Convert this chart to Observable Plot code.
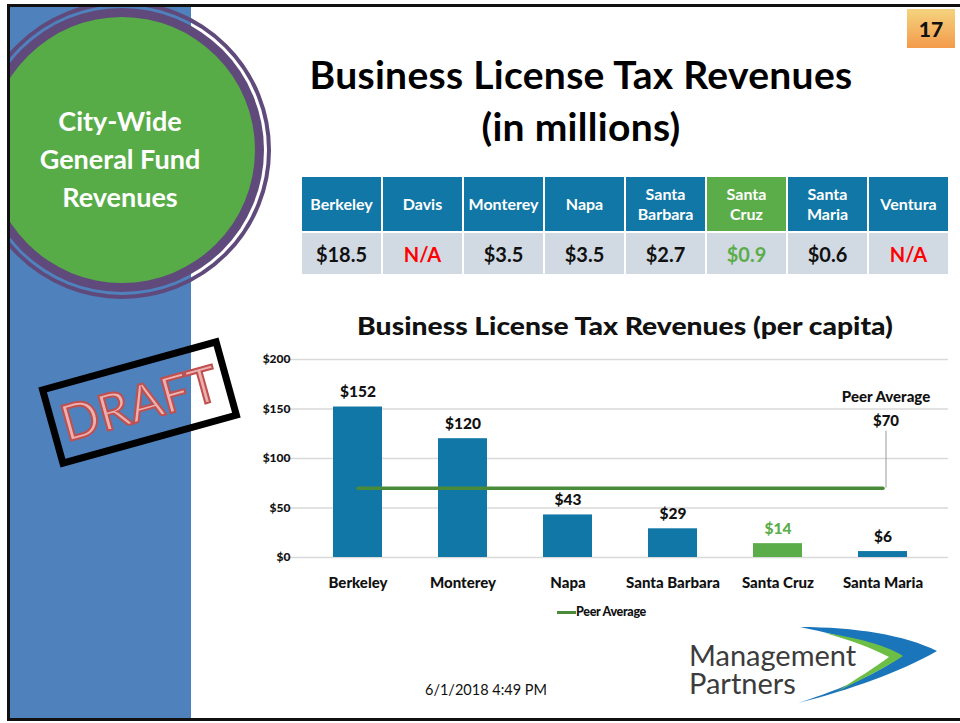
<!DOCTYPE html>
<html>
<head>
<meta charset="utf-8">
<script src="https://cdn.jsdelivr.net/npm/d3@7"></script>
<script src="https://cdn.jsdelivr.net/npm/@observablehq/plot@0.6"></script>
<style>
  html, body { margin: 0; padding: 0; background: #fff; }
  #page { position: relative; width: 960px; height: 723px; overflow: hidden; font-family: Lato, "Open Sans", sans-serif; }
  .abs { position: absolute; }
  #table { position: absolute; left: 300px; top: 175px; border-collapse: separate; border-spacing: 2px; }
  #table td { width: 79px; text-align: center; padding: 0; }
  #table tr.head td { height: 54px; background: #1177A6; color: #fff; font-size: 16px; font-weight: 700; line-height: 20px; }
  #table tr.vals td { height: 41px; background: #D1D9E3; color: #111; font-size: 20px; font-weight: 700; }
  .logo { position: absolute; left: 689px; font-family: Lato, 'Open Sans'; font-size: 29px; color: #3c3c3c; line-height: 27px; height: 27px; white-space: nowrap; }
</style>
</head>
<body>
<div id="page">
  <!-- slide frame -->
  <div class="abs" style="left:10px;top:7px;width:181px;height:711px;background:#4F81BD;"></div>
  <div class="abs" style="left:0;top:0;width:960px;height:723px;clip-path:inset(7px 0 5px 10px);">
    <div class="abs" style="left:-27px;top:1px;width:298px;height:298px;border-radius:50%;border:4px solid #604A7B;box-sizing:border-box;"></div>
    <div class="abs" style="left:-20px;top:8px;width:284px;height:284px;border-radius:50%;background:#604A7B;"></div>
    <div class="abs" style="left:-11px;top:17px;width:266px;height:266px;border-radius:50%;background:#58AC48;"></div>
  </div>
  <div class="abs" style="left:7px;top:4px;width:953px;height:3px;background:#111;"></div>
  <div class="abs" style="left:7px;top:4px;width:3px;height:717px;background:#111;"></div>
  <div class="abs" style="left:7px;top:718px;width:953px;height:3px;background:#111;"></div>

  <div id="circleText" class="abs" style="left:20px;top:102px;width:200px;text-align:center;color:#fff;font-weight:700;font-size:27px;line-height:38px;"></div>

  <!-- DRAFT stamp -->
  <div class="abs" style="left:46px;top:361px;width:187px;height:83px;box-sizing:border-box;border:7px solid #000;transform:rotate(-15.5deg);"></div>
  <div id="draft" class="abs" style="left:46px;top:361px;width:187px;height:83px;line-height:83px;text-align:center;transform:rotate(-15.5deg);font-size:50px;color:#EBB0B0;-webkit-text-stroke:2px #C0504D;font-weight:400;"></div>

  <!-- page number -->
  <div id="pageNum" class="abs" style="left:907px;top:9px;width:48px;height:39px;line-height:39px;text-align:center;font-weight:900;font-size:21px;color:#111;background:linear-gradient(#F5D37E,#F39B4B);"></div>

  <!-- titles -->
  <div id="title" class="abs" style="left:581px;top:48px;transform:translateX(-50%);white-space:nowrap;text-align:center;font-weight:700;font-size:39px;letter-spacing:0.3px;line-height:52px;color:#000;"></div>

  <table id="table"></table>

  <div id="chartTitle" class="abs" style="left:625px;top:310px;transform:translateX(-50%) scaleX(1.13);white-space:nowrap;font-weight:900;font-size:25px;color:#111;"></div>
  <div id="chart" class="abs" style="left:240px;top:340px;"></div>

  <!-- legend -->
  <div class="abs" style="left:557px;top:611px;width:19px;height:3px;background:#4A8B3B;"></div>
  <div id="legend" class="abs" style="left:576px;top:604px;font-size:12.5px;font-weight:900;letter-spacing:-0.3px;color:#111;"></div>

  <div id="date" class="abs" style="left:425px;top:681px;font-size:14.5px;color:#111;"></div>

  <!-- logo -->
  <svg class="abs" style="left:0;top:0;" width="960" height="723">
    <path d="M800,627 C855,627 905,635 937,651 C900,672 850,690 798,703 C845,688 880,672 898,658 C880,647 850,637 800,627 Z" fill="#1B75BB"/>
    <path d="M825,633 C860,638 890,647 903,656 C885,668 860,680 836,692 C856,679 876,667 889,657 C872,648 850,640 825,633 Z" fill="#6CBE45"/>
  </svg>
  <div id="logo1" class="logo" style="top:641px;"></div>
  <div id="logo2" class="logo" style="top:669px;"></div>
</div>

<script>
// ---------- data ----------
const circleLines = ["City-Wide", "General Fund", "Revenues"];
const pageNumber = "17";
const titleLines = ["Business License Tax Revenues", "(in millions)"];
const tableCities = ["Berkeley", "Davis", "Monterey", "Napa", "Santa Barbara", "Santa Cruz", "Santa Maria", "Ventura"];
const tableValues = ["$18.5", "N/A", "$3.5", "$3.5", "$2.7", "$0.9", "$0.6", "N/A"];
const highlightCity = "Santa Cruz";
const chartTitle = "Business License Tax Revenues (per capita)";
const chartCities = ["Berkeley", "Monterey", "Napa", "Santa Barbara", "Santa Cruz", "Santa Maria"];
const perCapita = [152, 120, 43, 29, 14, 6];
const peerAverage = 70;
const peerLabel = "Peer Average";
const yTicks = [0, 50, 100, 150, 200];
const dateText = "6/1/2018 4:49 PM";
const logoLines = ["Management", "Partners"];

// ---------- colours ----------
const blue = "#1177A6", green = "#5BAD4A", avgGreen = "#4A8B3B", naRed = "#FF0000", ink = "#111";

// ---------- html text ----------
document.getElementById("circleText").innerHTML = circleLines.join("<br>");
document.getElementById("draft").textContent = "DRAFT";
document.getElementById("pageNum").textContent = pageNumber;
document.getElementById("title").innerHTML = titleLines.join("<br>");
document.getElementById("chartTitle").textContent = chartTitle;
document.getElementById("legend").textContent = peerLabel;
document.getElementById("date").textContent = dateText;
document.getElementById("logo1").textContent = logoLines[0];
document.getElementById("logo2").textContent = logoLines[1];

const table = d3.select("#table");
table.append("tr").attr("class", "head").selectAll("td").data(tableCities).join("td")
  .style("background", d => d === highlightCity ? green : null)
  .html(d => d.replace(" ", "<br>"));
table.append("tr").attr("class", "vals").selectAll("td").data(tableValues).join("td")
  .style("color", (d, i) => d === "N/A" ? naRed : tableCities[i] === highlightCity ? green : null)
  .text(d => d);

// ---------- chart ----------
const rows = chartCities.map((city, i) => ({city, value: perCapita[i]}));
const avgRows = [chartCities[0], chartCities[chartCities.length - 1]].map(city => ({city, value: peerAverage}));
const lastCity = chartCities[chartCities.length - 1];
const fillOf = d => d.city === highlightCity ? green : blue;
const textOf = d => d.city === highlightCity ? green : ink;
const font = "Lato, 'Open Sans', sans-serif";

const chart = Plot.plot({
  width: 720,
  height: 290,
  marginLeft: 63,
  marginRight: 23,
  marginTop: 19,
  marginBottom: 73,
  x: {domain: chartCities, paddingInner: 0.53, paddingOuter: 0.265, axis: null},
  y: {domain: [0, 200], axis: null},
  style: {fontFamily: font, background: "transparent", overflow: "visible"},
  marks: [
    Plot.ruleY(yTicks, {stroke: "#D9D9D9", strokeWidth: 1.5, insetLeft: -18, insetRight: -11}),
    Plot.barY(rows, {x: "city", y: "value", fill: fillOf}),
    Plot.lineY(avgRows, {x: "city", y: "value", stroke: avgGreen, strokeWidth: 3.5}),
    Plot.ruleX([peerAverage], {x: () => lastCity, y1: d => d, y2: d => d, insetTop: -57, dx: 3, stroke: "#9a9a9a", strokeWidth: 1}),
    Plot.text(rows, {x: "city", y: "value", text: d => "$" + d.value, dy: -15, fill: textOf,
      fontSize: 15.5, fontWeight: 900}),
    Plot.text([peerAverage], {x: () => lastCity, y: d => d, text: () => peerLabel, dy: -91, dx: 3,
      fontSize: 15, fontWeight: 900, fill: ink}),
    Plot.text([peerAverage], {x: () => lastCity, y: d => d, text: d => "$" + d, dy: -67, dx: 3,
      fontSize: 15, fontWeight: 900, fill: ink}),
    Plot.text(yTicks, {y: d => d, frameAnchor: "left", dx: -13, textAnchor: "end", text: d => "$" + d,
      fontSize: 12, fontWeight: 900, letterSpacing: "-0.6px", fill: ink}),
    Plot.text(chartCities, {x: d => d, y: () => 0, dy: 26, text: d => d,
      fontSize: 15, fontWeight: 900, fill: ink})
  ]
});
document.getElementById("chart").appendChild(chart);
</script>
</body>
</html>
